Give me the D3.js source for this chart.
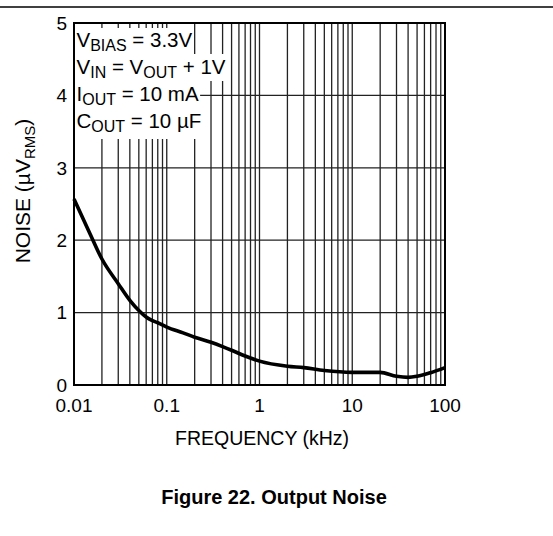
<!DOCTYPE html>
<html>
<head>
<meta charset="utf-8">
<script src="https://cdn.jsdelivr.net/npm/d3@7"></script>
<style>
  body { margin: 0; background: #fff; }
  text { font-family: "Liberation Sans", Arial, sans-serif; fill: #000; }
</style>
</head>
<body>
<svg id="chart" width="553" height="536"></svg>
<script>
// Output noise vs frequency
const freqKHz = [0.01, 0.015, 0.02, 0.03, 0.04, 0.05, 0.06, 0.07, 0.08, 0.1, 0.15, 0.2, 0.3, 0.4, 0.5, 0.7, 1, 2, 3, 5, 10, 20, 30, 40, 50, 70, 100];
const noiseUV = [2.57, 2.08, 1.74, 1.40, 1.17, 1.03, 0.94, 0.89, 0.86, 0.80, 0.72, 0.66, 0.59, 0.53, 0.48, 0.40, 0.33, 0.26, 0.24, 0.20, 0.175, 0.175, 0.12, 0.105, 0.12, 0.17, 0.24];
const xTicks = [0.01, 0.1, 1, 10, 100];
const xTickLabels = ["0.01", "0.1", "1", "10", "100"];
const yTicks = [0, 1, 2, 3, 4, 5];

// conditions box: [text, "sub" or ""]
const conditions = [
	[["V", ""], ["BIAS", "sub"], [" = 3.3V", ""]],
	[["V", ""], ["IN", "sub"], [" = V", ""], ["OUT", "sub"], [" + 1V", ""]],
	[["I", ""], ["OUT", "sub"], [" = 10 mA", ""]],
	[["C", ""], ["OUT", "sub"], [" = 10 µF", ""]]
];

const svg = d3.select("#chart");
const m = { left: 74, top: 23, right: 445, bottom: 385 };

const x = d3.scaleLog().domain([0.01, 100]).range([m.left, m.right]);
const y = d3.scaleLinear().domain([0, 5]).range([m.bottom, m.top]);

// top rule
svg.append("line")
	.attr("x1", 0).attr("x2", 553)
	.attr("y1", 7).attr("y2", 7)
	.attr("stroke", "#000").attr("stroke-width", 1.5);

// grid
const minor = [];
for (let d = 0.01; d < 100; d *= 10) {
	for (let k = 2; k <= 9; k++) minor.push(+(d * k).toPrecision(3));
}
const grid = svg.append("g").attr("class", "grid");
grid.selectAll("line.v")
	.data(minor.concat(xTicks))
	.join("line")
		.attr("class", "v")
		.attr("x1", d => x(d)).attr("x2", d => x(d))
		.attr("y1", m.top).attr("y2", m.bottom)
		.attr("stroke", "#222").attr("stroke-width", 1.3);
grid.selectAll("line.h")
	.data(yTicks)
	.join("line")
		.attr("class", "h")
		.attr("x1", m.left).attr("x2", m.right)
		.attr("y1", d => y(d)).attr("y2", d => y(d))
		.attr("stroke", "#222").attr("stroke-width", 1.3);

// curve
const line = d3.line()
	.x((d, i) => x(freqKHz[i]))
	.y(d => y(d))
	.curve(d3.curveMonotoneX);
svg.append("path")
	.datum(noiseUV)
	.attr("d", line)
	.attr("fill", "none")
	.attr("stroke", "#000")
	.attr("stroke-width", 3.6)
	.attr("stroke-linejoin", "round");

// conditions text with white backing
const box = svg.append("g").attr("class", "conditions");
const lineH = 27;
const firstBase = 47;
conditions.forEach((parts, i) => {
	const g = box.append("g");
	const bg = g.append("rect").attr("fill", "#fff");
	const t = g.append("text")
		.attr("x", m.left + 2.5)
		.attr("y", firstBase + i * lineH)
		.style("font-size", "20.5px");
	let down = false;
	parts.forEach(p => {
		const s = t.append("tspan").text(p[0]);
		if (p[1] === "sub") { s.attr("dy", 4).style("font-size", "16px"); down = true; }
		else if (down) { s.attr("dy", -4); down = false; }
	});
	const w = t.node().getComputedTextLength();
	const top = i === 0 ? m.top + 5 : firstBase + (i - 1) * lineH + 7;
	const bot = i === conditions.length - 1 ? 139 : firstBase + i * lineH + 7;
	bg.attr("x", m.left + 1).attr("y", top)
		.attr("width", w + 3).attr("height", bot - top);
});

// frame
svg.append("rect")
	.attr("x", m.left).attr("y", m.top)
	.attr("width", m.right - m.left).attr("height", m.bottom - m.top)
	.attr("fill", "none").attr("stroke", "#000").attr("stroke-width", 2);

// tick labels
svg.selectAll("text.ytick")
	.data(yTicks)
	.join("text")
		.attr("class", "ytick")
		.attr("x", m.left - 7)
		.attr("y", d => y(d))
		.attr("dy", "0.36em")
		.attr("text-anchor", "end")
		.style("font-size", "19px")
		.text(d => d);
svg.selectAll("text.xtick")
	.data(xTicks)
	.join("text")
		.attr("class", "xtick")
		.attr("x", d => x(d))
		.attr("y", 412)
		.attr("text-anchor", "middle")
		.style("font-size", "19px")
		.text((d, i) => xTickLabels[i]);

// axis titles
svg.append("text")
	.attr("x", 262)
	.attr("y", 445)
	.attr("text-anchor", "middle")
	.style("font-size", "19.5px")
	.text("FREQUENCY (kHz)");

const yt = svg.append("text")
	.attr("transform", "translate(30,191)rotate(-90)")
	.attr("text-anchor", "middle")
	.style("font-size", "21px");
yt.append("tspan").text("NOISE (µV");
yt.append("tspan").attr("dy", 5).style("font-size", "15px").text("RMS");
yt.append("tspan").attr("dy", -5).text(")");

svg.append("text")
	.attr("x", 274)
	.attr("y", 504)
	.attr("text-anchor", "middle")
	.style("font-size", "20px")
	.style("font-weight", "bold")
	.text("Figure 22. Output Noise");
</script>
</body>
</html>
